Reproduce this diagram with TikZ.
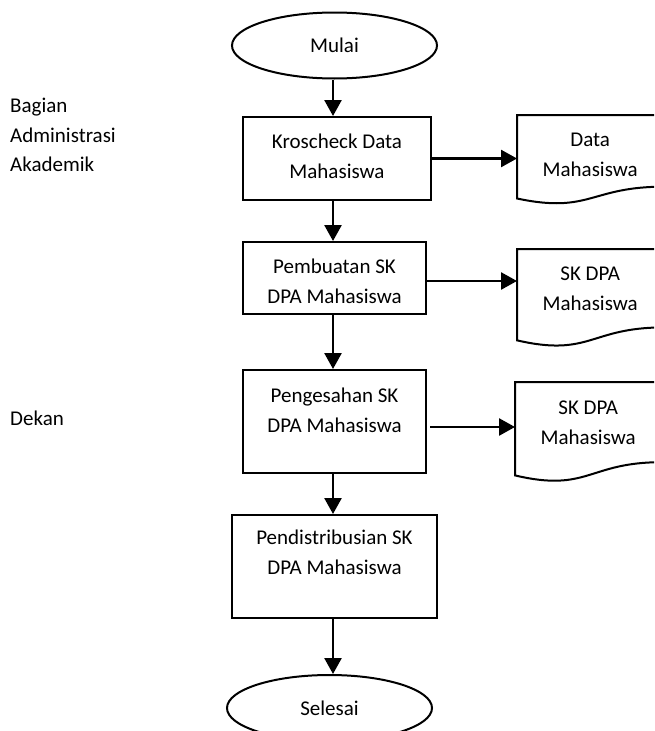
\documentclass[tikz,border=0pt]{standalone}
\usepackage{fontspec}
\setmainfont{Carlito}
\usetikzlibrary{shapes.geometric,arrows.meta,calc}

\tikzset{
  base/.style={font=\fontsize{21}{29.5}\selectfont},
  terminal/.style={base, draw, ellipse, line width=2pt, minimum width=205pt, minimum height=66pt, inner sep=0pt},
  procbox/.style={draw, rectangle, line width=2pt, anchor=north west, inner sep=0pt},
  docarea/.style={rectangle, anchor=north west, inner sep=0pt, minimum width=146pt},
  doclines/.style={line width=2pt, line join=miter},
  intext/.style={base, align=center, anchor=north, inner sep=0pt},
  sidetext/.style={base, align=left, anchor=north west, inner sep=0pt},
  arr/.style={line width=2.6pt, -{Triangle[length=16pt,width=17pt]}}
}

% document symbol with a wavy bottom edge, drawn over a named area node
\newcommand\docsymbol[1]{%
  \draw[doclines] (#1.north west) -- (#1.north east)
    -- ($(#1.north east)!0.802!(#1.south east)$)
    .. controls ($(#1.north)!0.802!(#1.south)$) and ($(#1.north)!1.107!(#1.south)$)
    .. ($(#1.north west)!0.934!(#1.south west)$) -- cycle;}

\begin{document}
\begin{tikzpicture}[x=1pt,y=-1pt]
\useasboundingbox (0,0) rectangle (654,731);
\clip (0,0) rectangle (654,731);

% lane captions
\node[sidetext] (lane1) at (10,98) {Bagian\\Administrasi\\Akademik};
\node[sidetext] (lane2) at (10,411) {Dekan};

% vertical flow axis
\coordinate (axis) at (333,0);

% terminals
\node[terminal] (mulai) at (334.5,45.5) {Mulai};
\node[terminal] (selesai) at (329.5,708) {Selesai};

% process boxes
\node[procbox, minimum width=188pt, minimum height=83pt] (kros) at (242,116) {};
\node[intext] (kros-t) at ([yshift=-18pt]kros.north) {Kroscheck Data\\Mahasiswa};

\node[procbox, minimum width=183pt, minimum height=72pt] (pemb) at (242,241) {};
\node[intext] (pemb-t) at ([yshift=-18pt]pemb.north) {Pembuatan SK\\DPA Mahasiswa};

\node[procbox, minimum width=183pt, minimum height=103pt] (peng) at (242,369) {};
\node[intext] (peng-t) at ([yshift=-19pt]peng.north) {Pengesahan SK\\DPA Mahasiswa};

\node[procbox, minimum width=205pt, minimum height=103pt] (pend) at (231,514) {};
\node[intext] (pend-t) at ([yshift=-16pt]pend.north) {Pendistribusian SK\\DPA Mahasiswa};

% documents
\node[docarea, minimum height=89pt] (d1) at (517,115) {};
\docsymbol{d1}
\node[intext] (d1-t) at ([yshift=-18pt]d1.north) {Data\\Mahasiswa};

\node[docarea, minimum height=97.4pt] (d2) at (517,249) {};
\docsymbol{d2}
\node[intext] (d2-t) at ([yshift=-18pt]d2.north) {SK DPA\\Mahasiswa};

\node[docarea, minimum height=99.6pt] (d3) at (515,382) {};
\docsymbol{d3}
\node[intext] (d3-t) at ([yshift=-19pt]d3.north) {SK DPA\\Mahasiswa};

% main flow
\draw[arr] (mulai.south -| axis) -- (kros.north -| axis);
\draw[arr] (kros.south -| axis) -- (pemb.north -| axis);
\draw[arr] (pemb.south -| axis) -- (peng.north -| axis);
\draw[arr] (peng.south -| axis) -- (pend.north -| axis);
\draw[arr] (pend.south -| axis) -- (selesai.north -| axis);

% outputs
\draw[arr] (kros.east) -- (kros.east -| d1.west);
\draw[arr] ([yshift=-3pt]pemb.east) -- ([yshift=-3pt]pemb.east -| d2.west);
\draw[arr] ([yshift=-5.5pt,xshift=3pt]peng.east) -- ([yshift=-5.5pt]peng.east -| d3.west);
\end{tikzpicture}
\end{document}
